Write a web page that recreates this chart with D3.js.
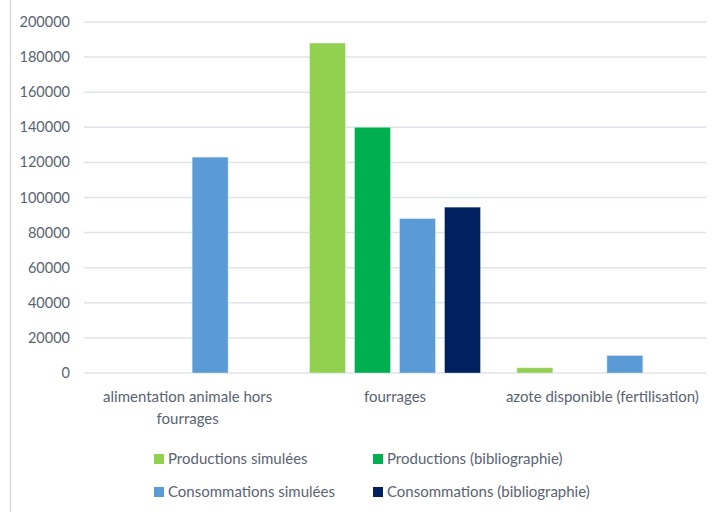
<!DOCTYPE html>
<head>
  <meta charset="utf-8">
  <script src="https://cdn.jsdelivr.net/npm/d3@7"></script>
  <style>
    body { margin: 0; background: #fff; }
    svg { display: block; font-family: Lato, "Open Sans", sans-serif; }
  </style>
</head>
<body>
<div id=chart></div>
<script>
// categories and series
const categories = ['alimentation animale hors fourrages', 'fourrages', 'azote disponible (fertilisation)']
const category_lines = [['alimentation animale hors', 'fourrages'], ['fourrages'], ['azote disponible (fertilisation)']]
const series = ['Productions simulées', 'Productions (bibliographie)', 'Consommations simulées', 'Consommations (bibliographie)']
const series_colors = ['#92d050', '#00b050', '#5b9bd5', '#002060']
const prod_sim = [0, 188000, 3000]
const prod_bib = [0, 140000, 0]
const cons_sim = [123000, 88000, 10000]
const cons_bib = [0, 94500, 0]
const y_ticks = [0, 20000, 40000, 60000, 80000, 100000, 120000, 140000, 160000, 180000, 200000]

const values = [prod_sim, prod_bib, cons_sim, cons_bib]
const width = 712, height = 512
const text_color = '#5a6372'

const svg = d3.select('#chart').append('svg')
  .attr('width', width).attr('height', height)

// chart area left border
svg.append('line')
  .attr('x1', 10.5).attr('x2', 10.5).attr('y1', 0).attr('y2', height)
  .attr('stroke', '#d9dde3').attr('stroke-width', 1.5)

const x = d3.scaleBand().domain(categories).range([84, 706])
const x_sub = d3.scaleBand().domain(series).range([0, x.bandwidth()])
  .paddingInner(0.2).paddingOuter(0.4035)
const y = d3.scaleLinear().domain([0, 200000]).range([373, 22])

// gridlines
svg.append('g').selectAll('line').data(y_ticks).join('line')
  .attr('x1', 84).attr('x2', 706)
  .attr('y1', d => y(d)).attr('y2', d => y(d))
  .attr('stroke', '#dfe3ea').attr('stroke-width', 1.5)

// y axis labels
svg.append('g').selectAll('text').data(y_ticks).join('text')
  .attr('x', 70).attr('y', d => y(d)).attr('dy', '0.35em')
  .attr('text-anchor', 'end').attr('font-size', 14.5).attr('fill', text_color)
  .text(d => d)

// bars
const bars = []
categories.forEach((c, i) => series.forEach((s, j) => {
  if (values[j][i] > 0) bars.push({ c, s, j, v: values[j][i] })
}))
svg.append('g').selectAll('rect').data(bars).join('rect')
  .attr('x', d => x(d.c) + x_sub(d.s))
  .attr('width', x_sub.bandwidth())
  .attr('y', d => y(d.v))
  .attr('height', d => y(0) - y(d.v))
  .attr('fill', d => series_colors[d.j])
  .attr('stroke', '#fff').attr('stroke-opacity', 0.35).attr('stroke-width', 1)

// category labels
svg.append('g').selectAll('text').data(categories).join('text')
  .attr('x', d => x(d) + x.bandwidth() / 2).attr('y', 402)
  .attr('text-anchor', 'middle').attr('font-size', 15).attr('fill', text_color)
  .selectAll('tspan').data((d, i) => category_lines[i]).join('tspan')
    .attr('x', function () { return this.parentNode.getAttribute('x') })
    .attr('dy', (d, i) => i ? 22 : 0)
    .text(d => d)

// legend
const legend_pos = [[154, 459], [373, 459], [154, 492], [373, 492]]
const legend = svg.append('g').selectAll('g').data(series).join('g')
  .attr('transform', (d, i) => `translate(${legend_pos[i][0]},${legend_pos[i][1]})`)
legend.append('rect')
  .attr('x', 0).attr('y', -5).attr('width', 10).attr('height', 10)
  .attr('fill', (d, i) => series_colors[i])
legend.append('text')
  .attr('x', 14).attr('dy', '0.35em')
  .attr('font-size', 15).attr('fill', text_color)
  .text(d => d)
</script>
</body>
